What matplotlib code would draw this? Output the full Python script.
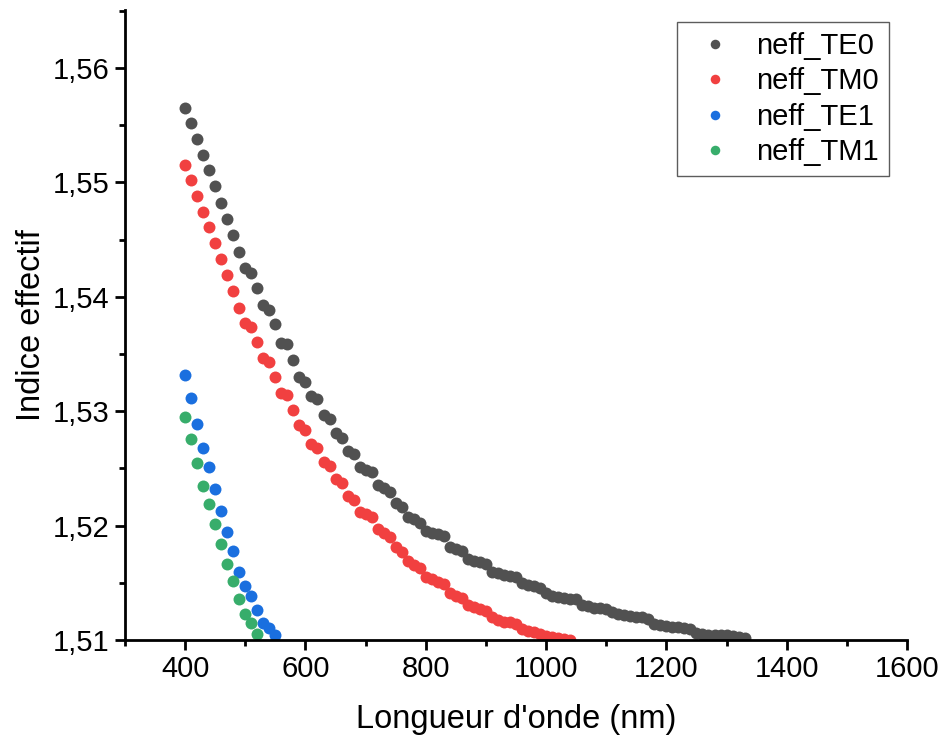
import matplotlib
matplotlib.use("Agg")
import matplotlib.pyplot as plt
from matplotlib.ticker import FuncFormatter, MultipleLocator

plt.rcParams['font.family'] = ['Liberation Sans', 'DejaVu Sans']

# ---- data ----
wl_te0 = list(range(400, 1340, 10))
neff_te0 = [1.55653, 1.55522, 1.55377, 1.55237, 1.55108, 1.54966, 1.54823, 1.54680,
            1.54540, 1.54389, 1.54254, 1.54211, 1.54074, 1.53928, 1.53885, 1.53760,
            1.53599, 1.53587, 1.53448, 1.53302, 1.53258, 1.53133, 1.53104, 1.52964,
            1.52935, 1.52812, 1.52763, 1.52652, 1.52623, 1.52515, 1.52486, 1.52466,
            1.52355, 1.52326, 1.52296, 1.52200, 1.52165, 1.52078, 1.52055, 1.52026,
            1.51953, 1.51938, 1.51924, 1.51909, 1.51810, 1.51798, 1.51781, 1.51708,
            1.51693, 1.51682, 1.51664, 1.51597, 1.51583, 1.51571, 1.51562, 1.51553,
            1.51496, 1.51481, 1.51472, 1.51457, 1.51408, 1.51385, 1.51379, 1.51370,
            1.51361, 1.51356, 1.51306, 1.51297, 1.51282, 1.51277, 1.51275, 1.51247,
            1.51225, 1.51219, 1.51210, 1.51204, 1.51198, 1.51186, 1.51140, 1.51128,
            1.51122, 1.51116, 1.51111, 1.51102, 1.51094, 1.51059, 1.51050, 1.51048,
            1.51046, 1.51044, 1.51042, 1.51038, 1.51029, 1.51017]

wl_tm0 = list(range(400, 1050, 10))
neff_tm0 = [1.55155, 1.55024, 1.54878, 1.54739, 1.54610, 1.54470, 1.54328, 1.54188,
            1.54051, 1.53905, 1.53774, 1.53733, 1.53605, 1.53462, 1.53430, 1.53302,
            1.53156, 1.53139, 1.53008, 1.52877, 1.52836, 1.52713, 1.52681, 1.52553,
            1.52524, 1.52405, 1.52370, 1.52259, 1.52224, 1.52122, 1.52101, 1.52072,
            1.51968, 1.51933, 1.51903, 1.51816, 1.51772, 1.51693, 1.51656, 1.51627,
            1.51553, 1.51531, 1.51510, 1.51490, 1.51408, 1.51385, 1.51364, 1.51306,
            1.51286, 1.51271, 1.51256, 1.51204, 1.51175, 1.51160, 1.51155, 1.51140,
            1.51093, 1.51079, 1.51067, 1.51052, 1.51038, 1.51024, 1.51015, 1.51006,
            1.50999]

wl_te1 = list(range(400, 560, 10))
neff_te1 = [1.53316, 1.53118, 1.52888, 1.52681, 1.52515, 1.52320, 1.52130, 1.51941,
            1.51781, 1.51597, 1.51475, 1.51382, 1.51265, 1.51151, 1.51102, 1.51044]

wl_tm1 = list(range(400, 530, 10))
neff_tm1 = [1.52952, 1.52760, 1.52550, 1.52349, 1.52189, 1.52011, 1.51837, 1.51662,
            1.51516, 1.51358, 1.51227, 1.51146, 1.51052]

labels = ['neff_TE0', 'neff_TM0', 'neff_TE1', 'neff_TM1']
colors = ['#515151', '#F14040', '#1A6FDF', '#37AD6B']

# ---- figure ----
fig = plt.figure(figsize=(9.39, 7.37), dpi=100)
ax = fig.add_axes([125/939, 1 - 640/737, (907-125)/939, (640-10)/737])

series = [(wl_te0, neff_te0), (wl_tm0, neff_tm0), (wl_te1, neff_te1), (wl_tm1, neff_tm1)]
for (x, y), lab, c in zip(series, labels, colors):
    ax.plot(x, y, linestyle='none', marker='o', markersize=8.6,
            markeredgewidth=0, color=c, label=lab)

ax.set_xlim(300, 1600)
ax.set_ylim(1.51, 1.56507)

ax.xaxis.set_major_locator(MultipleLocator(200))
ax.xaxis.set_minor_locator(MultipleLocator(100))
ax.yaxis.set_major_locator(MultipleLocator(0.01))
ax.yaxis.set_minor_locator(MultipleLocator(0.005))
ax.yaxis.set_major_formatter(FuncFormatter(lambda v, p: f"{v:.2f}".replace('.', ',')))
ax.xaxis.set_major_formatter(FuncFormatter(lambda v, p: "" if v < 400 else f"{v:.0f}"))

for s in ['top', 'right']:
    ax.spines[s].set_visible(False)
for s in ['left', 'bottom']:
    ax.spines[s].set_linewidth(2)

ax.tick_params(axis='both', which='major', direction='out', length=7, width=2,
               labelsize=21, pad=4, color='black')
ax.tick_params(axis='both', which='minor', direction='out', length=4, width=2)

ax.set_xlabel("Longueur d'onde (nm)", fontsize=23.5, labelpad=15)
ax.set_ylabel("Indice effectif", fontsize=23.5, labelpad=4)

leg = ax.legend(loc='upper right', bbox_to_anchor=(0.977, 0.981), borderaxespad=0,
                fontsize=21, frameon=True, fancybox=False, markerscale=0.8,
                handlelength=1.85, handletextpad=0.5, labelspacing=0.25,
                borderpad=0.35)
leg.get_frame().set_edgecolor('#333333')
leg.get_frame().set_linewidth(1.0)

fig.savefig('out.png', dpi=100)
